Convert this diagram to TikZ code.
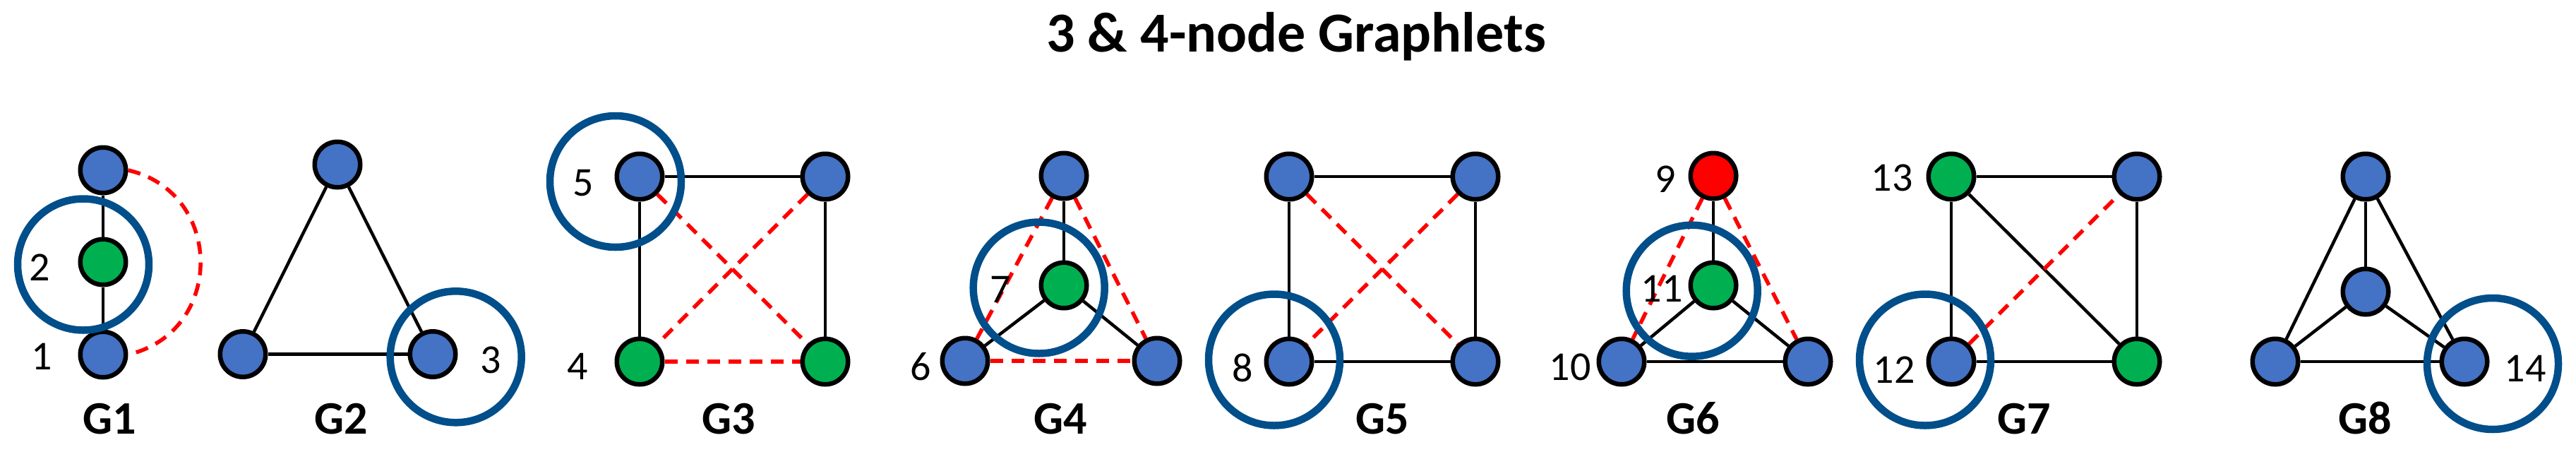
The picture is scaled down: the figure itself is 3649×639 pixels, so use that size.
\documentclass[tikz,border=0pt]{standalone}
\usepackage{fontspec}
\setmainfont{Carlito}
\usetikzlibrary{backgrounds}
\definecolor{nblue}{HTML}{4472C4}
\definecolor{ngreen}{HTML}{00B050}
\definecolor{nred}{HTML}{FF0000}
\definecolor{ringblue}{HTML}{004E8A}
\tikzset{
  vtx/.style={circle, draw=black, line width=3.25pt, minimum size=32.25pt, inner sep=0pt, fill=nblue},
  gv/.style={vtx, fill=ngreen},
  rv/.style={vtx, fill=nred},
  sedge/.style={draw=black, line width=2.25pt},
  dedge/.style={draw=nred, line width=2.75pt, dash pattern=on 9pt off 6pt},
  ring/.style={draw=ringblue, line width=5.25pt},
  num/.style={anchor=base, font=\fontsize{29pt}{29pt}\selectfont, inner sep=0pt},
  glabel/.style={anchor=base, font=\fontsize{33pt}{33pt}\selectfont\bfseries, inner sep=0pt},
  ttl/.style={anchor=base, font=\fontsize{40pt}{40pt}\selectfont\bfseries, inner sep=0pt},
}
\begin{document}
\begin{tikzpicture}[x=0.5pt,y=0.5pt]
\useasboundingbox (0,0) rectangle (3649,-639);
\node[ttl] (title) at (1836,-73) {3 \& 4-node Graphlets};

% G1
\node[vtx] (a1) at (146,-241) {};
\node[gv]  (a2) at (146,-371) {};
\node[vtx] (a3) at (146,-502) {};
% G2
\node[vtx] (b1) at (478,-233) {};
\node[vtx] (b2) at (344,-501.5) {};
\node[vtx] (b3) at (613,-501.5) {};
% G3
\node[vtx] (c1) at (906,-250) {};
\node[vtx] (c2) at (1169,-250) {};
\node[gv]  (c3) at (906,-512) {};
\node[gv]  (c4) at (1169,-512) {};
% G4
\node[vtx] (d1) at (1507,-249) {};
\node[gv]  (d2) at (1507,-404) {};
\node[vtx] (d3) at (1367,-511) {};
\node[vtx] (d4) at (1639,-511) {};
% G5
\node[vtx] (e1) at (1826,-250) {};
\node[vtx] (e2) at (2090,-250) {};
\node[vtx] (e3) at (1826,-512) {};
\node[vtx] (e4) at (2090,-512) {};
% G6
\node[rv]  (f1) at (2427,-249) {};
\node[gv]  (f2) at (2427,-404) {};
\node[vtx] (f3) at (2297,-512) {};
\node[vtx] (f4) at (2561,-512) {};
% G7
\node[gv]  (g1) at (2764,-250) {};
\node[vtx] (g2) at (3027,-250) {};
\node[vtx] (g3) at (2764,-512) {};
\node[gv]  (g4) at (3027,-512) {};
% G8
\node[vtx] (h1) at (3351,-250) {};
\node[vtx] (h2) at (3351,-413) {};
\node[vtx] (h3) at (3223,-512) {};
\node[vtx] (h4) at (3491,-512) {};

\begin{scope}[on background layer]
% G1
\draw[sedge] (a1) -- (a2);
\draw[sedge] (a2) -- (a3);
\draw[dedge] (a1.east) to[out=-13, in=13, looseness=1.38] (a3.east);
% G2
\draw[sedge] (b1) -- (b2);
\draw[sedge] (b1) -- (b3);
\draw[sedge] (b2) -- (b3);
% G3
\draw[sedge] (c1) -- (c2);
\draw[sedge] (c1) -- (c3);
\draw[sedge] (c2) -- (c4);
\draw[dedge] (c1) -- (c4);
\draw[dedge] (c2) -- (c3);
\draw[dedge] (c3) -- (c4);
% G4
\draw[sedge] (d1) -- (d2);
\draw[sedge] (d2) -- (d3);
\draw[sedge] (d2) -- (d4);
\draw[dedge] (d1) -- (d3);
\draw[dedge] (d1) -- (d4);
\draw[dedge] (d3) -- (d4);
% G5
\draw[sedge] (e1) -- (e2);
\draw[sedge] (e1) -- (e3);
\draw[sedge] (e2) -- (e4);
\draw[sedge] (e3) -- (e4);
\draw[dedge] (e1) -- (e4);
\draw[dedge] (e2) -- (e3);
% G6
\draw[sedge] (f1) -- (f2);
\draw[sedge] (f2) -- (f3);
\draw[sedge] (f2) -- (f4);
\draw[sedge] (f3) -- (f4);
\draw[dedge] (f1) -- (f3);
\draw[dedge] (f1) -- (f4);
% G7
\draw[sedge] (g1) -- (g2);
\draw[sedge] (g1) -- (g3);
\draw[sedge] (g2) -- (g4);
\draw[sedge] (g3) -- (g4);
\draw[sedge] (g1) -- (g4);
\draw[dedge] (g3) -- (g2);
% G8
\draw[sedge] (h1) -- (h2);
\draw[sedge] (h1) -- (h3);
\draw[sedge] (h1) -- (h4);
\draw[sedge] (h2) -- (h3);
\draw[sedge] (h2) -- (h4);
\draw[sedge] (h3) -- (h4);
\end{scope}

% highlight rings
\draw[ring] (118,-374.5) circle[radius=46.5pt];
\draw[ring] (645.7,-505.3) circle[radius=46.5pt];
\draw[ring] (872,-257) circle[radius=46.5pt];
\draw[ring] (1471.7,-407.5) circle[radius=46.5pt];
\draw[ring] (1805,-509.5) circle[radius=46.5pt];
\draw[ring] (2396.7,-411.7) circle[radius=46.5pt];
\draw[ring] (2727,-509.5) circle[radius=46.5pt];
\draw[ring] (3531,-515) circle[radius=46.5pt];

% orbit numbers
\node[num] (n1)  at (59,-523) {1};
\node[num] (n2)  at (56,-397) {2};
\node[num] (n3)  at (695,-528) {3};
\node[num] (n4)  at (818,-537) {4};
\node[num] (n5)  at (826,-277) {5};
\node[num] (n6)  at (1304,-538) {6};
\node[num] (n7)  at (1417.5,-428) {7};
\node[num] (n8)  at (1760,-540) {8};
\node[num] (n9)  at (2359,-272) {9};
\node[num] (n10) at (2224,-538) {10};
\node[num] (n11) at (2354,-427) {11};
\node[num] (n12) at (2683,-542) {12};
\node[num] (n13) at (2680,-270) {13};
\node[num] (n14) at (3577,-540) {14};

% graphlet names
\node[glabel] (G1) at (155,-614) {G1};
\node[glabel] (G2) at (483,-614) {G2};
\node[glabel] (G3) at (1032,-614) {G3};
\node[glabel] (G4) at (1502,-614) {G4};
\node[glabel] (G5) at (1958,-614) {G5};
\node[glabel] (G6) at (2398,-614) {G6};
\node[glabel] (G7) at (2867,-614) {G7};
\node[glabel] (G8) at (3350,-614) {G8};
\end{tikzpicture}
\end{document}
